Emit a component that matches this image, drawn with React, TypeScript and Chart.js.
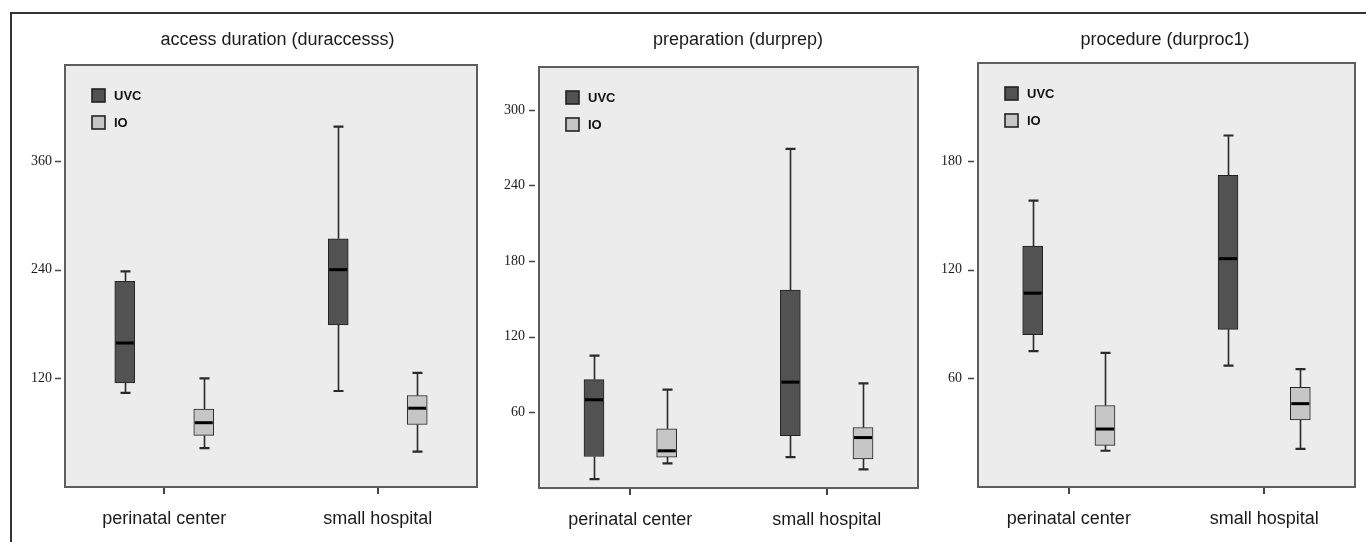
import React, { useEffect, useRef } from "react";
import { Chart, registerables } from "chart.js";

Chart.register(...registerables);

// ---------- DATA ----------
const CATEGORIES = ["perinatal center", "small hospital"];
const SERIES = ["UVC", "IO"];

// each entry: [min, q1, median, q3, max] for perinatal center, small hospital
const accessUVC = [
  [104, 115, 159, 227, 238],
  [106, 179, 240, 274, 398],
];
const accessIO = [
  [43, 57, 71, 86, 120],
  [39, 69, 87, 101, 126],
];
const prepUVC = [
  [7, 25, 70, 86, 105],
  [24.5, 41.5, 84, 157, 269],
];
const prepIO = [
  [19.6, 24.5, 29.5, 47, 78],
  [14.7, 23, 40, 48, 83],
];
const procUVC = [
  [75, 84, 107, 133, 158],
  [67, 87, 126, 172, 194],
];
const procIO = [
  [20, 23, 32, 45, 74],
  [21, 37, 46, 55, 65],
];

const accessTicks = [120, 240, 360];
const prepTicks = [60, 120, 180, 240, 300];
const procTicks = [60, 120, 180];

const accessMax = 466;
const prepMax = 334;
const procMax = 234;

const TITLES = [
  "access duration (duraccesss)",
  "preparation (durprep)",
  "procedure (durproc1)",
];

// ---------- STYLE ----------
const UVC_COLOR = "#525252";
const IO_COLOR = "#c6c6c6";
const EDGE = "#222222";
const PLOT_BG = "#ececec";
const PLOT_BORDER = "#5e5e5e";
const TEXT = "#1a1a1a";
const SANS = "'Liberation Sans', Arial, Helvetica, sans-serif";
const SERIF = "'Liberation Serif', 'Times New Roman', serif";
const H = 542;
const X_MIN = 0.535;
const X_MAX = 2.465;
const BOX_OFFSET = 0.185;

type PanelCfg = {
  title: string;
  uvc: number[][];
  io: number[][];
  ticks: number[];
  yMax: number;
  left: number;
  width: number;
  yAxisW: number;
  rightW: number;
  top: number;
  bottom: number;
  tickPad: number;
};

const PANELS: PanelCfg[] = [
  { title: TITLES[0], uvc: accessUVC, io: accessIO, ticks: accessTicks, yMax: accessMax,
    left: 10, width: 535, yAxisW: 55, rightW: 68, top: 65, bottom: 487, tickPad: 13 },
  { title: TITLES[1], uvc: prepUVC, io: prepIO, ticks: prepTicks, yMax: prepMax,
    left: 495, width: 486, yAxisW: 44, rightW: 63, top: 67, bottom: 488, tickPad: 14 },
  { title: TITLES[2], uvc: procUVC, io: procIO, ticks: procTicks, yMax: procMax,
    left: 935, width: 460, yAxisW: 43, rightW: 40, top: 63, bottom: 487, tickPad: 16 },
];

const boxPlugin = {
  id: "boxplotExtras",
  beforeDraw(chart: any) {
    const { ctx, chartArea: a } = chart;
    ctx.save();
    ctx.fillStyle = PLOT_BG;
    ctx.fillRect(a.left, a.top, a.right - a.left, a.bottom - a.top);
    ctx.restore();
  },
  beforeDatasetsDraw(chart: any) {
    const { ctx } = chart;
    const ys = chart.scales.y;
    ctx.save();
    ctx.strokeStyle = "#2a2a2a";
    chart.data.datasets.forEach((ds: any, i: number) => {
      const meta = chart.getDatasetMeta(i);
      meta.data.forEach((el: any, j: number) => {
        const s = ds.stats[j];
        const x = Math.round(el.x) + 0.5;
        const yMin = ys.getPixelForValue(s[0]);
        const yQ1 = ys.getPixelForValue(s[1]);
        const yQ3 = ys.getPixelForValue(s[3]);
        const yMaxP = ys.getPixelForValue(s[4]);
        ctx.lineWidth = 1.6;
        ctx.beginPath();
        ctx.moveTo(x, yQ1);
        ctx.lineTo(x, yMin);
        ctx.moveTo(x, yQ3);
        ctx.lineTo(x, yMaxP);
        ctx.stroke();
        ctx.lineWidth = 2.2;
        ctx.beginPath();
        ctx.moveTo(x - 5, yMin);
        ctx.lineTo(x + 5, yMin);
        ctx.moveTo(x - 5, yMaxP);
        ctx.lineTo(x + 5, yMaxP);
        ctx.stroke();
      });
    });
    ctx.restore();
  },
  afterDatasetsDraw(chart: any) {
    const { ctx } = chart;
    const ys = chart.scales.y;
    ctx.save();
    ctx.strokeStyle = "#000";
    ctx.lineWidth = 3;
    chart.data.datasets.forEach((ds: any, i: number) => {
      const meta = chart.getDatasetMeta(i);
      meta.data.forEach((el: any, j: number) => {
        const s = ds.stats[j];
        const y = ys.getPixelForValue(s[2]);
        const w = el.width;
        ctx.beginPath();
        ctx.moveTo(el.x - w / 2 + 1, y);
        ctx.lineTo(el.x + w / 2 - 1, y);
        ctx.stroke();
      });
    });
    ctx.restore();
  },
  afterDraw(chart: any) {
    const { ctx, chartArea: a } = chart;
    const ys = chart.scales.y;
    ctx.save();
    ctx.strokeStyle = PLOT_BORDER;
    ctx.lineWidth = 2;
    ctx.strokeRect(a.left, a.top, a.right - a.left, a.bottom - a.top);
    ctx.strokeStyle = "#444";
    ctx.lineWidth = 1.5;
    ys.ticks.forEach((t: any) => {
      const y = Math.round(ys.getPixelForValue(t.value)) + 0.5;
      ctx.beginPath();
      ctx.moveTo(a.left - 10, y);
      ctx.lineTo(a.left - 4, y);
      ctx.stroke();
    });
    ctx.font = `bold 13px ${SANS}`;
    ctx.textBaseline = "middle";
    ctx.textAlign = "left";
    chart.data.datasets.forEach((ds: any, i: number) => {
      const sx = a.left + 27;
      const sy = a.top + 24 + i * 27;
      ctx.fillStyle = ds.backgroundColor;
      ctx.fillRect(sx, sy, 13, 13);
      ctx.strokeStyle = "#222";
      ctx.lineWidth = 1.6;
      ctx.strokeRect(sx, sy, 13, 13);
      ctx.fillStyle = "#111";
      ctx.fillText(ds.label, sx + 22, sy + 7);
    });
    ctx.restore();
  },
};

function buildConfig(p: PanelCfg): any {
  const makeData = (stats: number[][], off: number) =>
    stats.map((s, k) => ({ x: k + 1 + off, y: [s[1], s[3]] }));
  const titleLine = 18 * 1.2;
  return {
    type: "bar",
    data: {
      datasets: [
        {
          label: SERIES[0],
          data: makeData(p.uvc, -BOX_OFFSET),
          stats: p.uvc,
          backgroundColor: UVC_COLOR,
          borderColor: EDGE,
          borderWidth: 1,
          borderSkipped: false,
          barThickness: 20,
          grouped: false,
        },
        {
          label: SERIES[1],
          data: makeData(p.io, BOX_OFFSET),
          stats: p.io,
          backgroundColor: IO_COLOR,
          borderColor: EDGE,
          borderWidth: 1,
          borderSkipped: false,
          barThickness: 20,
          grouped: false,
        },
      ],
    },
    options: {
      animation: false,
      responsive: false,
      devicePixelRatio: 1,
      events: [],
      layout: { padding: 0 },
      plugins: {
        legend: { display: false },
        tooltip: { enabled: false },
        title: {
          display: true,
          text: p.title,
          color: TEXT,
          font: { family: SANS, size: 18, weight: "normal", lineHeight: 1.2 },
          padding: { top: 29, bottom: p.top - 29 - titleLine },
        },
      },
      scales: {
        x: {
          type: "linear",
          position: "bottom",
          min: X_MIN,
          max: X_MAX,
          offset: false,
          afterBuildTicks: (s: any) => {
            s.ticks = CATEGORIES.map((_, k) => ({ value: k + 1 }));
          },
          afterFit: (s: any) => {
            s.height = H - p.bottom;
          },
          grid: {
            display: true,
            offset: false,
            drawOnChartArea: false,
            drawTicks: true,
            tickLength: 7,
            color: "#444",
            lineWidth: 2,
          },
          border: { display: false },
          ticks: {
            autoSkip: false,
            maxRotation: 0,
            padding: 14,
            color: TEXT,
            font: { family: SANS, size: 18 },
            callback: (v: any) => CATEGORIES[Math.round(v) - 1] ?? "",
          },
        },
        y: {
          type: "linear",
          position: "left",
          min: 0,
          max: p.yMax,
          afterBuildTicks: (s: any) => {
            s.ticks = p.ticks.map((v) => ({ value: v }));
          },
          afterFit: (s: any) => {
            s.width = p.yAxisW;
          },
          grid: { display: false, drawTicks: false },
          border: { display: false },
          ticks: {
            padding: p.tickPad,
            color: TEXT,
            font: { family: SERIF, size: 14 },
            callback: (v: any) => String(v),
          },
        },
        yr: {
          type: "linear",
          position: "right",
          display: true,
          grid: { display: false, drawTicks: false },
          border: { display: false },
          ticks: { display: false },
          afterFit: (s: any) => {
            s.width = p.rightW;
          },
        },
      },
    },
    plugins: [boxPlugin],
  };
}

function Panel({ cfg }: { cfg: PanelCfg }) {
  const ref = useRef<HTMLCanvasElement | null>(null);
  useEffect(() => {
    if (!ref.current) return;
    const chart = new Chart(ref.current, buildConfig(cfg));
    return () => chart.destroy();
  }, [cfg]);
  return (
    <canvas
      ref={ref}
      width={cfg.width}
      height={H}
      style={{ position: "absolute", left: cfg.left, top: 0, width: cfg.width, height: H }}
    />
  );
}

export default function App() {
  return (
    <div
      style={{
        position: "absolute",
        left: 0,
        top: 0,
        width: 1366,
        height: H,
        overflow: "hidden",
        background: "#fff",
      }}
    >
      <div
        style={{
          position: "absolute",
          left: 10,
          top: 12,
          width: 1400,
          height: 600,
          borderTop: "2px solid #333",
          borderLeft: "2px solid #333",
        }}
      />
      {PANELS.map((p, i) => (
        <Panel key={i} cfg={p} />
      ))}
    </div>
  );
}
